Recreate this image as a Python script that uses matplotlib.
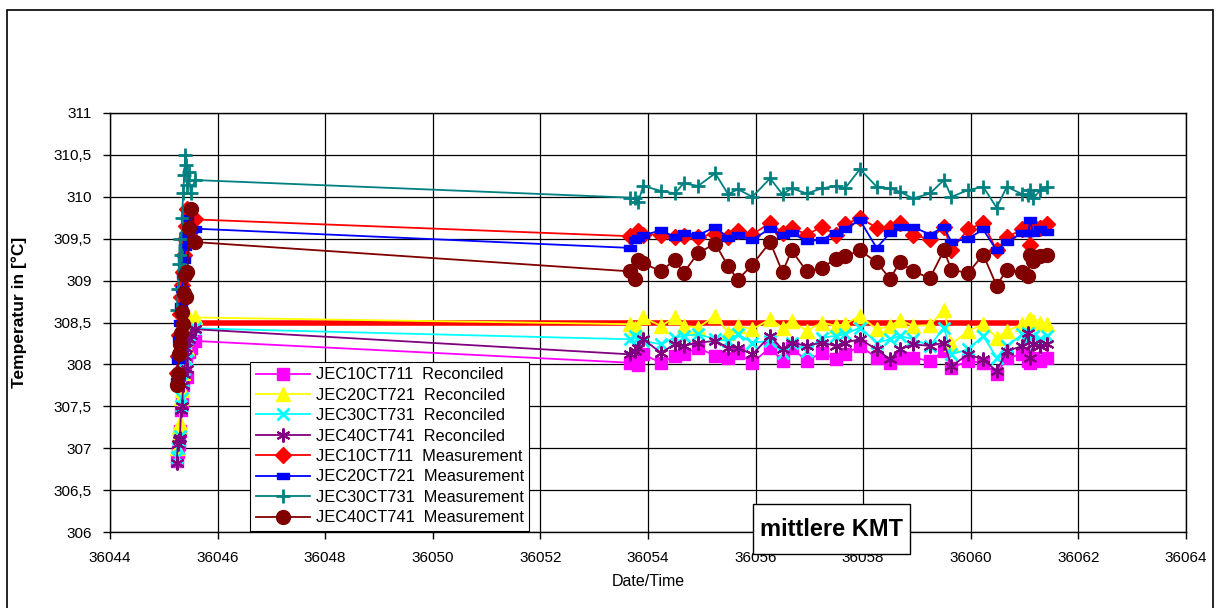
import matplotlib
matplotlib.use('Agg')
import matplotlib.pyplot as plt
from matplotlib.patches import Rectangle
from matplotlib.ticker import FuncFormatter, MultipleLocator

plt.rcParams['font.family'] = ['Liberation Sans', 'DejaVu Sans']

# Zeitstempel: Anfahrcluster links und Messreihe rechts
t_left = [36045.24, 36045.26, 36045.28, 36045.30, 36045.32, 36045.34, 36045.36,
          36045.38, 36045.40, 36045.42, 36045.44, 36045.46, 36045.50, 36045.58]
t_right = [36053.67, 36053.76, 36053.82, 36053.91, 36054.24, 36054.50, 36054.66,
           36054.93, 36055.25, 36055.49, 36055.67, 36055.94, 36056.27, 36056.50,
           36056.67, 36056.95, 36057.23, 36057.49, 36057.66, 36057.94, 36058.25,
           36058.50, 36058.68, 36058.93, 36059.24, 36059.50, 36059.64, 36059.95,
           36060.23, 36060.48, 36060.67, 36060.96, 36061.07, 36061.10, 36061.16,
           36061.29, 36061.41]

# Reconciled
jec10_rec = [306.85, 306.95, 307.05, 307.20, 307.45, 307.55, 307.75, 307.90, 308.00, 308.10, 307.85, 308.15, 308.20, 308.28] + \
    [308.02, 308.04, 307.99, 308.12, 308.02, 308.10, 308.12, 308.20, 308.10, 308.08, 308.14, 308.02,
     308.20, 308.04, 308.20, 308.04, 308.14, 308.06, 308.12, 308.22, 308.08, 308.02, 308.08, 308.08,
     308.04, 308.16, 307.96, 308.04, 308.02, 307.88, 308.08, 308.12, 308.04, 308.02, 308.08, 308.04, 308.08]
jec20_rec = [307.00, 307.15, 307.25, 307.30, 307.60, 307.70, 307.90, 308.10, 308.30, 308.45, 308.20, 308.55, 308.50, 308.56] + \
    [308.48, 308.44, 308.40, 308.56, 308.46, 308.56, 308.46, 308.44, 308.58, 308.38, 308.46, 308.42,
     308.54, 308.44, 308.52, 308.40, 308.50, 308.46, 308.48, 308.58, 308.42, 308.46, 308.53, 308.46,
     308.47, 308.65, 308.24, 308.40, 308.48, 308.32, 308.40, 308.48, 308.52, 308.54, 308.52, 308.50, 308.48]
jec30_rec = [306.90, 307.00, 307.10, 307.15, 307.50, 307.60, 307.80, 307.95, 308.15, 308.30, 308.05, 308.35, 308.40, 308.43] + \
    [308.30, 308.34, 308.32, 308.28, 308.24, 308.32, 308.34, 308.36, 308.30, 308.28, 308.36, 308.26,
     308.28, 308.14, 308.26, 308.16, 308.32, 308.34, 308.36, 308.44, 308.26, 308.30, 308.34, 308.30,
     308.22, 308.44, 308.12, 308.18, 308.34, 308.08, 308.22, 308.36, 308.38, 308.32, 308.34, 308.30, 308.34]
jec40_rec = [306.82, 307.05, 307.10, 307.12, 307.45, 307.50, 307.75, 307.88, 308.10, 308.20, 307.95, 308.30, 308.35, 308.42] + \
    [308.12, 308.16, 308.20, 308.30, 308.14, 308.24, 308.22, 308.26, 308.28, 308.20, 308.20, 308.12,
     308.34, 308.18, 308.26, 308.22, 308.26, 308.22, 308.26, 308.30, 308.18, 308.06, 308.18, 308.24,
     308.22, 308.26, 307.98, 308.12, 308.06, 307.92, 308.16, 308.22, 308.38, 308.08, 308.24, 308.22, 308.24]

# Measurement
jec10_mes = [307.90, 308.10, 308.35, 308.60, 308.80, 308.95, 309.10, 309.30, 309.50, 309.65, 309.85, 309.55, 309.70, 309.73] + \
    [309.53, 309.55, 309.59, 309.55, 309.55, 309.52, 309.53, 309.52, 309.56, 309.52, 309.59, 309.55,
     309.69, 309.57, 309.63, 309.55, 309.64, 309.55, 309.67, 309.75, 309.63, 309.63, 309.69, 309.54,
     309.50, 309.64, 309.37, 309.61, 309.69, 309.36, 309.52, 309.61, 309.65, 309.43, 309.65, 309.63, 309.67]
jec20_mes = [307.80, 308.05, 308.30, 308.50, 308.70, 308.90, 309.05, 309.25, 309.40, 309.55, 309.75, 309.45, 309.60, 309.62] + \
    [309.39, 309.49, 309.51, 309.54, 309.60, 309.52, 309.57, 309.54, 309.64, 309.51, 309.54, 309.49,
     309.62, 309.54, 309.57, 309.47, 309.49, 309.57, 309.62, 309.72, 309.39, 309.57, 309.64, 309.64,
     309.55, 309.64, 309.46, 309.50, 309.61, 309.36, 309.46, 309.57, 309.57, 309.72, 309.57, 309.61, 309.58]
jec30_mes = [308.65, 308.90, 309.20, 309.50, 309.30, 309.75, 310.05, 310.26, 310.50, 310.38, 310.14, 310.30, 310.05, 310.20] + \
    [309.99, 309.98, 309.94, 310.13, 310.07, 310.04, 310.16, 310.13, 310.28, 310.03, 310.09, 310.00,
     310.22, 310.03, 310.10, 310.04, 310.10, 310.13, 310.10, 310.33, 310.12, 310.10, 310.06, 309.98,
     310.04, 310.20, 310.00, 310.08, 310.12, 309.87, 310.12, 310.03, 310.02, 310.08, 309.98, 310.08, 310.12]
jec40_mes = [307.76, 307.88, 308.12, 308.24, 308.38, 308.63, 308.48, 308.85, 309.07, 308.81, 309.10, 309.63, 309.85, 309.46] + \
    [309.11, 309.02, 309.25, 309.21, 309.11, 309.25, 309.09, 309.33, 309.44, 309.17, 309.01, 309.19,
     309.46, 309.10, 309.36, 309.11, 309.15, 309.26, 309.29, 309.36, 309.22, 309.02, 309.22, 309.11,
     309.03, 309.36, 309.13, 309.09, 309.31, 308.94, 309.13, 309.10, 309.05, 309.31, 309.23, 309.29, 309.31]

# Grenzlinie bei 308,5
limit_t = [36045.60, 36060.90]
limit_val = [308.5, 308.5]

t_all = t_left + t_right

W, H = 1217, 608
fig = plt.figure(figsize=(W / 100, H / 100), dpi=100)
ax = fig.add_axes([110 / W, 1 - 532 / H, (1186 - 110) / W, (532 - 113) / H])

# Rahmen um das ganze Diagramm
fig.patches.append(Rectangle((7 / W, -0.01), (1213 - 7) / W, 1 - 10 / H + 0.01,
                             transform=fig.transFigure, fill=False, edgecolor='black', lw=1.2))

ax.set_xlim(36044, 36064)
ax.set_ylim(306, 311)
ax.xaxis.set_major_locator(MultipleLocator(2))
ax.yaxis.set_major_locator(MultipleLocator(0.5))

# Gitter von Hand, damit das Textfeld darueber liegt
for xv in ax.get_xticks():
    ax.axvline(xv, color='black', lw=0.9, zorder=0.5)
for yv in ax.get_yticks():
    ax.axhline(yv, color='black', lw=0.9, zorder=0.5)

ax.plot(limit_t, limit_val, color='#FF0000', lw=4, solid_capstyle='butt', zorder=2)

blue_rect = [(-1.5, -0.9), (1.5, -0.9), (1.5, 0.9), (-1.5, 0.9), (-1.5, -0.9)]

series = [
    ('JEC10CT711  Reconciled', jec10_rec, '#FF00FF', 's', 8.5, 1),
    ('JEC20CT721  Reconciled', jec20_rec, '#FFFF00', '^', 10, 1),
    ('JEC30CT731  Reconciled', jec30_rec, '#00FFFF', 'x', 8.5, 2),
    ('JEC40CT741  Reconciled', jec40_rec, '#800080', (6, 2, 0), 10, 1.5),
    ('JEC10CT711  Measurement', jec10_mes, '#FF0000', 'D', 8.5, 1),
    ('JEC20CT721  Measurement', jec20_mes, '#0000FF', blue_rect, 8, 1),
    ('JEC30CT731  Measurement', jec30_mes, '#008080', '+', 10, 2),
    ('JEC40CT741  Measurement', jec40_mes, '#800000', 'o', 10, 1),
]

for label, vals, col, mk, ms, mew in series:
    ax.plot(t_all, vals, color=col, lw=1.3, marker=mk, markersize=ms,
            markerfacecolor=col, markeredgecolor=col, markeredgewidth=mew,
            label=label, zorder=3)

ax.xaxis.set_major_formatter(FuncFormatter(lambda v, p: '%d' % v))
ax.yaxis.set_major_formatter(FuncFormatter(lambda v, p: ('%g' % v).replace('.', ',')))
ax.tick_params(direction='out', length=5, width=1, labelsize=11, colors='black')
ax.tick_params(axis='x', pad=9)
ax.tick_params(axis='y', pad=8)
for s in ax.spines.values():
    s.set_linewidth(1)

ax.set_ylabel('Temperatur in [°C]', fontsize=12.5, fontweight='bold')
ax.yaxis.set_label_coords(-(110 - 27) / 1076, 0.525)
ax.set_xlabel('Date/Time', fontsize=11.5, labelpad=6)

leg = ax.legend(loc='lower left', bbox_to_anchor=(250 / W, 1 - 531 / H),
                bbox_transform=fig.transFigure, fontsize=11.8, frameon=True,
                fancybox=False, edgecolor='black', framealpha=1,
                handlelength=3.3, handletextpad=0.35, labelspacing=0.33,
                borderpad=0.35, borderaxespad=0)
leg.get_frame().set_linewidth(0.8)
leg.set_zorder(5)

# Textfeld "mittlere KMT" (liegt ueber Gitter, Achse und Teilstrichen)
ax.add_patch(Rectangle((753 / W, 1 - 554 / H), (910 - 753) / W, 50 / H,
                       transform=fig.transFigure, clip_on=False, facecolor='white',
                       edgecolor='black', lw=1, zorder=2.6))
ax.text(831 / W, 1 - 530 / H, 'mittlere KMT', fontsize=17, fontweight='bold',
        ha='center', va='center', transform=fig.transFigure, clip_on=False, zorder=2.65)

fig.savefig('out.png', dpi=100)
